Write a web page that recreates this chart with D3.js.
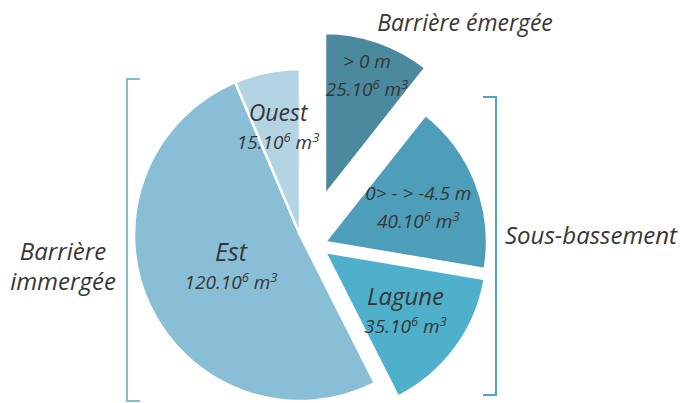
<!DOCTYPE html>
<html>
<head>
<meta charset="utf-8">
<script src="https://cdn.jsdelivr.net/npm/d3@7"></script>
<style>
  body { margin: 0; background: #fff; }
  text { font-family: "Open Sans", "Noto Sans", sans-serif; font-style: italic; fill: #363636; }
</style>
</head>
<body>
<svg id="chart" width="682" height="403"></svg>
<script>
// Sediment volumes, in 10^6 m3, clockwise from 12 o'clock
const names   = ["> 0 m", "0> - > -4.5 m", "Lagune", "Est", "Ouest"];
const volumes = [25, 40, 35, 120, 15];
const colors  = ["#4a899e", "#4d9fb9", "#4fb0cc", "#89bfd6", "#b3d4e2"];

// Layout: slice displacement (exploded slices), label radius, name font size
const explode     = [[25, -40], [25, 7], [25, 17], [0, 0], [0, 0]];
const labelRadius = [128, 100, 100, 76, 110];
const nameSize    = [19, 19, 24, 25, 23];

// Group labels
const groups = [
  { lines: ["Barrière émergée"], x: 465, y: 31, anchor: "middle", size: 23 },
  { lines: ["Sous-bassement"], x: 505, y: 244, anchor: "start", size: 24 },
  { lines: ["Barrière", "immergée"], x: 63, y: 260, anchor: "middle", size: 24 }
];

const svg = d3.select("#chart");
const cx = 300, cy = 235;

const pie = d3.pie().sort(null).value(d => d);
const arcs = pie(volumes);

const radius = i => (explode[i][0] || explode[i][1]) ? 162 : 166;

const g = svg.append("g").attr("transform", `translate(${cx},${cy})`);

const slice = g.selectAll("g.slice")
  .data(arcs)
  .join("g")
  .attr("class", "slice")
  .attr("transform", (d, i) => `translate(${explode[i][0]},${explode[i][1]})`);

slice.append("path")
  .attr("d", (d, i) => d3.arc().innerRadius(0).outerRadius(radius(i))(d))
  .attr("fill", (d, i) => colors[i])
  .attr("stroke", "#fff")
  .attr("stroke-width", 2.5)
  .attr("stroke-linejoin", "round");

// Slice labels: name, then volume as N.10^6 m^3
slice.each(function (d, i) {
  const [lx, ly] = d3.arc().innerRadius(labelRadius[i]).outerRadius(labelRadius[i]).centroid(d);
  const t = d3.select(this).append("text")
    .attr("text-anchor", "middle")
    .attr("transform", `translate(${lx},${ly})`);
  t.append("tspan").attr("x", 0).attr("y", -6)
    .style("font-size", nameSize[i] + "px").text(names[i]);
  const v = t.append("tspan").attr("x", 0).attr("y", 22).style("font-size", "19px");
  v.append("tspan").text(volumes[i] + ".10");
  v.append("tspan").attr("dy", -7).style("font-size", "13px").text("6");
  v.append("tspan").attr("dy", 7).text(" m");
  v.append("tspan").attr("dy", -7).style("font-size", "13px").text("3");
});

// Brackets
const bracket = (x, y0, y1, dir, color) => {
  const p = d3.path();
  p.moveTo(x + dir * 13, y0);
  p.lineTo(x, y0);
  p.lineTo(x, y1);
  p.lineTo(x + dir * 13, y1);
  svg.append("path").attr("d", p.toString())
    .attr("fill", "none").attr("stroke", color).attr("stroke-width", 2);
};
bracket(127, 79, 401, 1, "#7fbfd4");
bracket(496, 97, 395, -1, "#4ea6bf");

svg.selectAll("text.group")
  .data(groups)
  .join("text")
  .attr("class", "group")
  .attr("text-anchor", d => d.anchor)
  .style("font-size", d => d.size + "px")
  .each(function (d) {
    d3.select(this).selectAll("tspan")
      .data(d.lines)
      .join("tspan")
      .attr("x", d.x)
      .attr("y", (l, j) => d.y + j * 30)
      .text(l => l);
  });
</script>
</body>
</html>
